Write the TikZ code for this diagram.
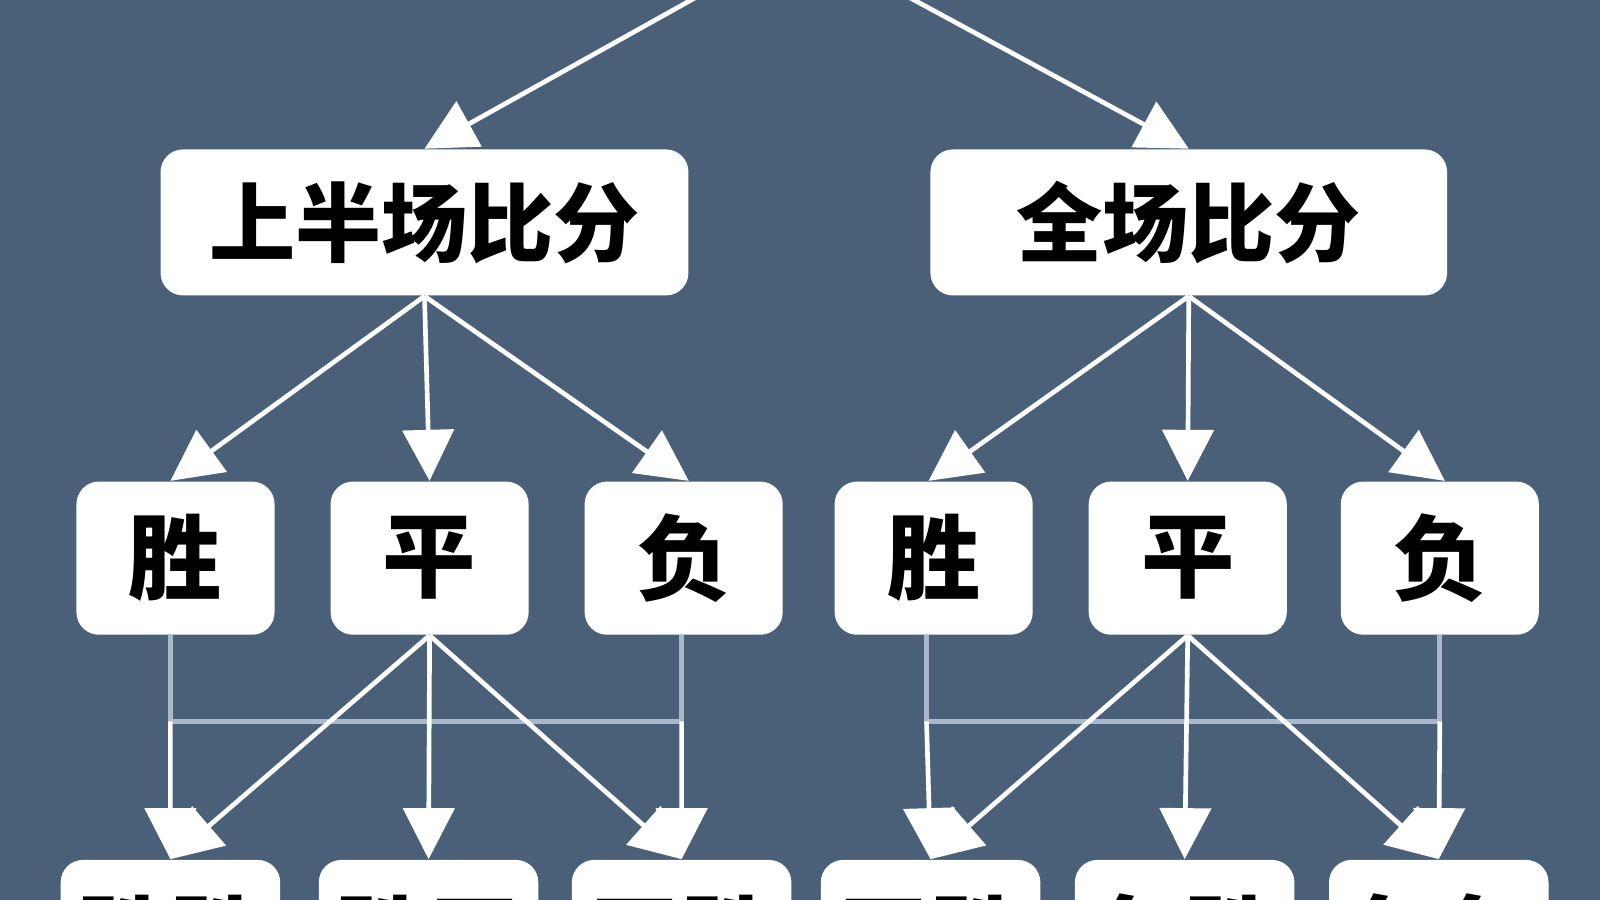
\documentclass[tikz,border=0pt]{standalone}
\usepackage{fontspec}
\setmainfont{Noto Sans CJK SC}
\usetikzlibrary{arrows.meta,positioning}
\definecolor{bgblue}{RGB}{74,96,120}
\definecolor{linkgray}{RGB}{170,185,202}

\begin{document}
\begin{tikzpicture}[x=0.01cm,y=-0.01cm,
  box/.style={draw=none,fill=white,rounded corners=0.22cm,font=\bfseries\fontsize{24}{24}\selectfont,inner sep=0pt},
  link/.style={white,line width=1.3pt,-{Triangle[length=0.5cm,width=0.5cm]}},
  side/.style={linkgray,line width=1.3pt}]
        % Background
        \fill[bgblue] (0,0) rectangle (1568,882);
        \clip (0,0) rectangle (1568,882);

        % Root (off the top edge)
        \coordinate (root) at (785,-60);

        % Score boxes
        \node[box,minimum width=5.17cm,minimum height=1.43cm] (half) at (416,218) {上半场比分};
        \node[box,minimum width=5.06cm,minimum height=1.43cm] (full) at (1165,218) {全场比分};

        % Result boxes
        \foreach \name/\x/\txt in {hw/172/胜,hd/421/平,hl/670/负,fw/915/胜,fd/1164/平,fl/1411/负}
          \node[box,minimum width=1.94cm,minimum height=1.5cm,font=\bfseries\fontsize{26}{26}\selectfont] (\name) at (\x,547) {\txt};

        % Combined results (cut by the bottom edge)
        \foreach \name/\x/\txt in {c1/167/胜胜,c2/420/胜平,c3/668/平胜,c4/912/平胜,c5/1161/负胜,c6/1410/负负}
          \node[box,minimum width=2.15cm,minimum height=1.5cm,anchor=north,text height=1.02cm,text depth=0.3cm,font=\bfseries\fontsize{26}{26}\selectfont] (\name) at (\x,842) {\txt};

        % Top arrows
        \draw[link] (root) -- (half.north);
        \draw[link] (root) -- (full.north);

        % Score to result
        \foreach \p/\a/\b/\c in {half/hw/hd/hl,full/fw/fd/fl} {
          \draw[link] (\p.south) -- ([xshift=-0.05cm]\a.north);
          \draw[link] (\p.south) -- (\b.north);
          \draw[link] (\p.south) -- ([xshift=0.05cm]\c.north);
        }

        % Side links
        \draw[side] ([xshift=-0.05cm]hw.south) -- ([xshift=-0.05cm]hw.south |- 0,707) -- ([xshift=-0.02cm]hl.south |- 0,707);
        \draw[side] ([xshift=-0.02cm]hl.south) -- ([xshift=-0.02cm]hl.south |- 0,707);
        \draw[side] ([xshift=-0.07cm]fw.south) -- ([xshift=-0.07cm]fw.south |- 0,707) -- (fl.south |- 0,707);
        \draw[side] (fl.south) -- (fl.south |- 0,707);
        \draw[link] ([xshift=-0.05cm]hw.south |- 0,707) -- (c1.north);
        \draw[link] ([xshift=-0.02cm]hl.south |- 0,707) -- (c3.north);
        \draw[link] ([xshift=-0.07cm]fw.south |- 0,707) -- (c4.north);
        \draw[link] (fl.south |- 0,707) -- (c6.north);

        % Draw fans
        \foreach \p/\a/\b/\c in {hd/c1/c2/c3,fd/c4/c5/c6} {
          \draw[link] (\p.south) -- (\a.north);
          \draw[link] (\p.south) -- (\b.north);
          \draw[link] (\p.south) -- (\c.north);
        }
    \end{tikzpicture}
\end{document}
